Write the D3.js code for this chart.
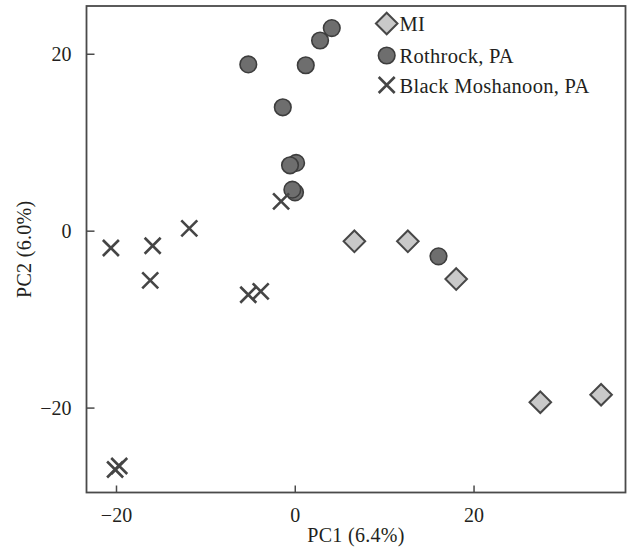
<!DOCTYPE html>
<html>
<head>
<meta charset="utf-8">
<script src="https://cdn.jsdelivr.net/npm/d3@7"></script>
<style>
  html, body { margin: 0; padding: 0; background: #fff; }
  svg { display: block; }
  text { font-family: "Liberation Serif", "DejaVu Serif", serif; fill: #231f20; }
</style>
</head>
<body>
<svg id="chart" width="630" height="550"></svg>
<script>
// ---- data ----
const seriesNames = ["MI", "Rothrock, PA", "Black Moshanoon, PA"];

const miX = [6.67, 12.65, 18.06, 27.47, 34.27];
const miY = [-1.2, -1.2, -5.47, -19.4, -18.55];

const rothX = [-5.2, 1.23, -1.34, 0.15, -0.53, 0.03, -0.27, 4.14, 2.83, 16.08];
const rothY = [18.8, 18.7, 13.95, 7.66, 7.39, 4.33, 4.64, 22.9, 21.5, -2.9];

const bmX = [-1.53, -20.57, -15.9, -11.8, -16.17, -5.2, -3.81, -20.1, -19.64];
const bmY = [3.31, -1.96, -1.7, 0.26, -5.62, -7.24, -6.86, -27.0, -26.6];

const xTicks = [-20, 0, 20];
const yTicks = [-20, 0, 20];
const xLabel = "PC1 (6.4%)";
const yLabel = "PC2 (6.0%)";

// ---- layout ----
const svg = d3.select("#chart");
const pLeft = 86.5, pRight = 625.5, pTop = 6, pBottom = 492.5;

const x = d3.scaleLinear().domain([-23.3, 37.0]).range([pLeft, pRight]);
const y = d3.scaleLinear().domain([-29.6, 25.4]).range([pBottom, pTop]);

const axisColor = "#4a4a4a";

// axes (ticks inward)
const gx = svg.append("g")
  .attr("transform", `translate(0,${pBottom})`)
  .call(d3.axisBottom(x).tickValues(xTicks).tickSizeInner(-7).tickSizeOuter(0).tickPadding(15));
const gy = svg.append("g")
  .attr("transform", `translate(${pLeft},0)`)
  .call(d3.axisLeft(y).tickValues(yTicks).tickSizeInner(-8).tickSizeOuter(0).tickPadding(15));

[gx, gy].forEach(g => {
  g.select(".domain").remove();
  g.selectAll(".tick line").attr("stroke", axisColor).attr("stroke-width", 1.5);
  g.selectAll(".tick text")
    .style("font-family", '"Liberation Serif", "DejaVu Serif", serif')
    .style("font-size", "20px")
    .attr("fill", "#231f20");
});
gy.selectAll(".tick text").attr("dy", "0.34em");

// frame
svg.append("rect")
  .attr("x", pLeft).attr("y", pTop)
  .attr("width", pRight - pLeft).attr("height", pBottom - pTop)
  .attr("fill", "none").attr("stroke", axisColor).attr("stroke-width", 1.8);

// axis titles
svg.append("text")
  .attr("x", (pLeft + pRight) / 2).attr("y", 542)
  .attr("text-anchor", "middle")
  .style("font-size", "20px")
  .style("letter-spacing", "0.3px")
  .text(xLabel);
svg.append("text")
  .attr("transform", `translate(31,${(pTop + pBottom) / 2}) rotate(-90)`)
  .attr("text-anchor", "middle")
  .style("font-size", "20px")
  .style("letter-spacing", "0.3px")
  .text(yLabel);

// marker styles
const diamondFill = "#c9c9c9", diamondStroke = "#474747";
const circleFill = "#6e6e6e", circleStroke = "#3d3d3d";
const crossStroke = "#454545";
const R = 8.3, D = 10.8, C = 8;

function diamond(g, cx, cy) {
  g.append("path")
    .attr("d", `M${cx},${cy - D}L${cx + D},${cy}L${cx},${cy + D}L${cx - D},${cy}Z`)
    .attr("fill", diamondFill).attr("stroke", diamondStroke).attr("stroke-width", 2);
}
function circle(g, cx, cy) {
  g.append("circle").attr("cx", cx).attr("cy", cy).attr("r", R)
    .attr("fill", circleFill).attr("stroke", circleStroke).attr("stroke-width", 1.6);
}
function cross(g, cx, cy) {
  g.append("path")
    .attr("d", `M${cx - C},${cy - C}L${cx + C},${cy + C}M${cx + C},${cy - C}L${cx - C},${cy + C}`)
    .attr("stroke", crossStroke).attr("stroke-width", 2.6).attr("fill", "none");
}

const marks = svg.append("g");
miX.forEach((v, i) => diamond(marks, x(v), y(miY[i])));
rothX.forEach((v, i) => circle(marks, x(v), y(rothY[i])));
bmX.forEach((v, i) => cross(marks, x(v), y(bmY[i])));

// legend
const legend = svg.append("g");
const lx = 386.7, ly = [23.5, 55.5, 85];
diamond(legend, lx, ly[0]);
circle(legend, lx, ly[1]);
cross(legend, lx, ly[2]);
seriesNames.forEach((name, i) => {
  legend.append("text")
    .attr("x", 399.5).attr("y", ly[i] + 7.5)
    .style("font-size", "20.5px")
    .style("letter-spacing", "0.3px")
    .text(name);
});
</script>
</body>
</html>
